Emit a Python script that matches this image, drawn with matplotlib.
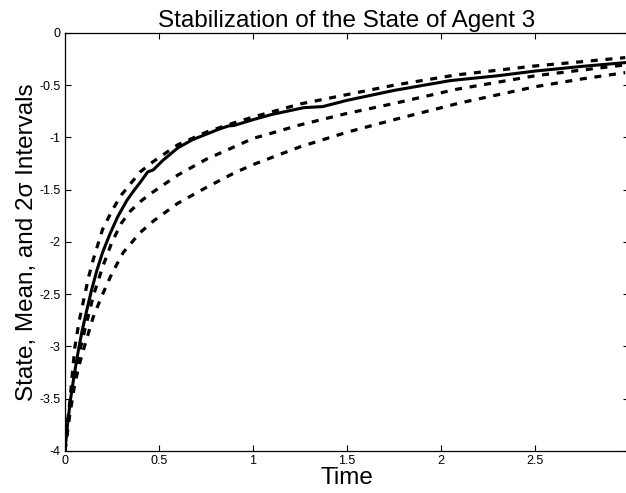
import matplotlib
matplotlib.use("Agg")
import matplotlib.pyplot as plt

# state of agent 3 (solid)
t_state = [0, 0.015, 0.03, 0.05, 0.07, 0.09, 0.115, 0.14, 0.17, 0.2, 0.24, 0.28, 0.33, 0.37, 0.40, 0.44, 0.47,
           0.52, 0.6, 0.68, 0.75, 0.82, 0.87, 0.9, 1.0, 1.1, 1.27, 1.37, 1.5, 1.75, 2.05, 2.3, 2.5, 2.75, 2.98]
v_state = [-4, -3.72, -3.5, -3.26, -3.05, -2.86, -2.66, -2.47, -2.27, -2.1, -1.92, -1.76, -1.6, -1.5, -1.43, -1.33, -1.31,
           -1.22, -1.1, -1.02, -0.97, -0.92, -0.89, -0.885, -0.83, -0.78, -0.715, -0.705, -0.645, -0.55, -0.456, -0.41, -0.365, -0.32, -0.284]

# upper 2-sigma bound (dashed)
t_upper = [0, 0.012, 0.027, 0.04, 0.053, 0.075, 0.1, 0.125, 0.15, 0.2, 0.25, 0.3, 0.4, 0.47, 0.6, 0.75, 0.9,
           1.0, 1.25, 1.5, 1.75, 2.08, 2.5, 2.75, 2.98]
v_upper = [-4, -3.75, -3.51, -3.24, -3.0, -2.76, -2.55, -2.34, -2.17, -1.88, -1.7, -1.55, -1.33, -1.23, -1.07, -0.95, -0.86,
           -0.805, -0.68, -0.59, -0.5, -0.402, -0.316, -0.275, -0.236]

# mean (dashed)
t_mean = [0, 0.025, 0.05, 0.075, 0.1, 0.15, 0.2, 0.25, 0.3, 0.35, 0.41, 0.47, 0.6, 0.75, 0.9,
          1.0, 1.25, 1.5, 1.75, 2.08, 2.5, 2.75, 2.98]
v_mean = [-4, -3.6, -3.3, -3.07, -2.88, -2.52, -2.24, -2.0, -1.82, -1.7, -1.6, -1.52, -1.36, -1.21, -1.09,
          -1.01, -0.88, -0.77, -0.675, -0.54, -0.41, -0.355, -0.306]

# lower 2-sigma bound (dashed)
t_lower = [0, 0.025, 0.05, 0.075, 0.1, 0.15, 0.2, 0.25, 0.31, 0.4, 0.47, 0.6, 0.75, 0.9,
           1.0, 1.25, 1.5, 1.75, 2.1, 2.5, 2.75, 2.98]
v_lower = [-4, -3.66, -3.38, -3.18, -3.02, -2.72, -2.5, -2.3, -2.1, -1.91, -1.8, -1.63, -1.48, -1.34,
           -1.26, -1.09, -0.95, -0.83, -0.67, -0.515, -0.44, -0.38]

xticks = [0, 0.5, 1, 1.5, 2, 2.5]
xtick_labels = ["0", "0.5", "1", "1.5", "2", "2.5"]
yticks = [-4, -3.5, -3, -2.5, -2, -1.5, -1, -0.5, 0]
ytick_labels = ["-4", "-3.5", "-3", "-2.5", "-2", "-1.5", "-1", "-0.5", "0"]

plt.rcParams['font.family'] = ['Liberation Sans', 'DejaVu Sans']

fig = plt.figure(figsize=(6.26, 4.93), dpi=100)
ax = fig.add_axes([0.1038, 0.0852, 0.901, 0.848])

dash = (0, (2.2, 2.4))
ax.plot(t_upper, v_upper, color="black", lw=2.3, linestyle=dash)
ax.plot(t_mean, v_mean, color="black", lw=2.3, linestyle=dash)
ax.plot(t_lower, v_lower, color="black", lw=2.3, linestyle=dash)
ax.plot(t_state, v_state, color="black", lw=2.2, solid_joinstyle="round")

ax.set_xlim(0, 3)
ax.set_ylim(-4, 0)
ax.set_xticks(xticks)
ax.set_xticklabels(xtick_labels)
ax.set_yticks(yticks)
ax.set_yticklabels(ytick_labels)
ax.tick_params(direction="in", top=True, right=True, length=4, width=0.8, labelsize=9, pad=3)
for s in ax.spines.values():
    s.set_linewidth(0.9)

ax.set_title("Stabilization of the State of Agent 3", fontsize=17.5, pad=4)
ax.set_xlabel("Time", fontsize=17.5, labelpad=0)
ax.set_ylabel("State, Mean, and 2σ Intervals", fontsize=17.5, labelpad=1)

fig.savefig("out.png", dpi=100)
